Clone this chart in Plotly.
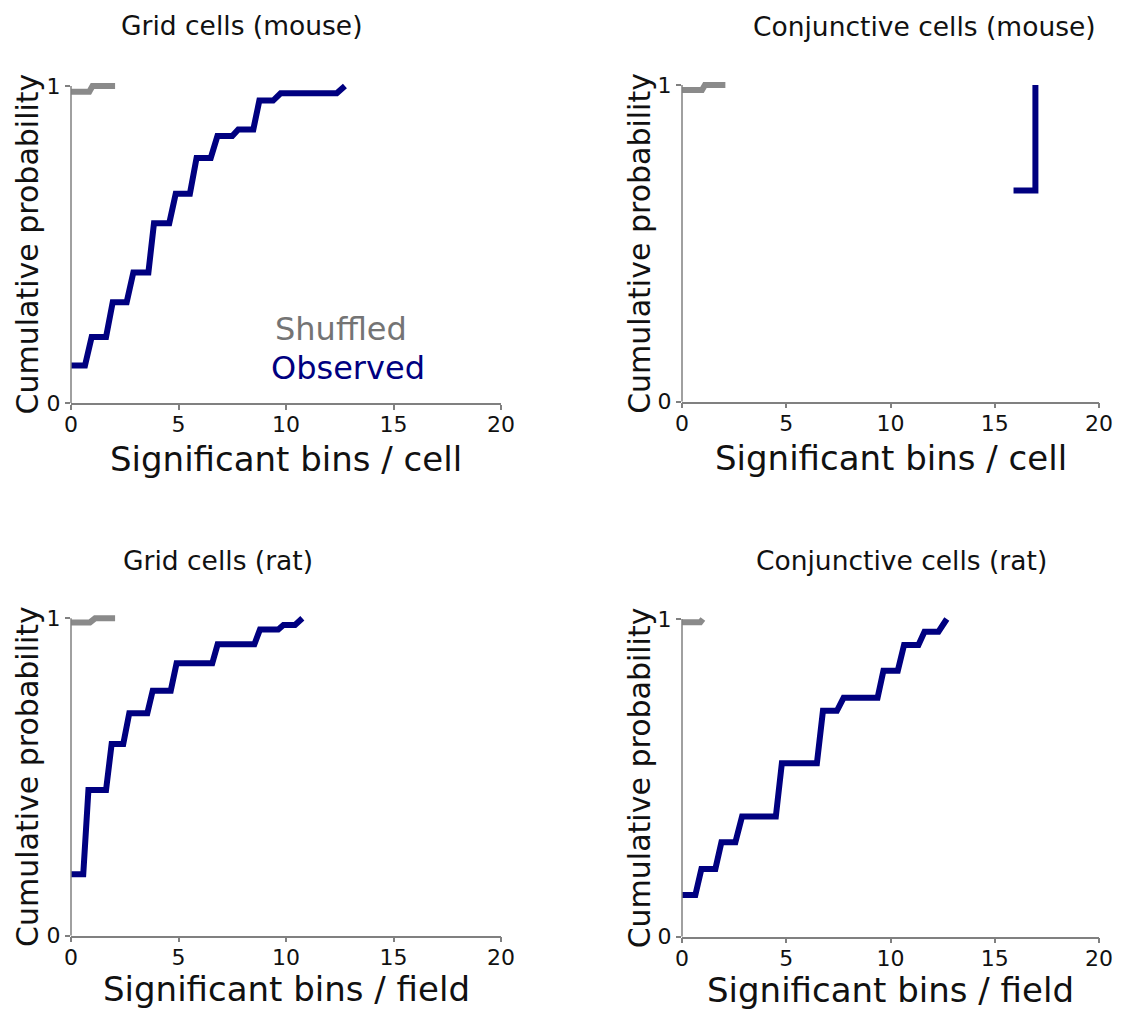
import plotly.graph_objects as go

# ---------------- data ----------------
titles = ["Grid cells (mouse)", "Conjunctive cells (mouse)", "Grid cells (rat)", "Conjunctive cells (rat)"]
xlabels = ["Significant bins / cell", "Significant bins / cell", "Significant bins / field", "Significant bins / field"]
ylabel = "Cumulative probability"
x_ticks = [0, 5, 10, 15, 20]
y_ticks = [0, 1]

# Grid cells (mouse)
gm_obs_x = [0, 0.65, 0.96, 1.63, 1.94, 2.59, 2.90, 3.60, 3.86, 4.57, 4.87, 5.53, 5.84, 6.50, 6.81, 7.50, 7.78, 8.48, 8.76, 9.40, 9.75, 12.36, 12.74]
gm_obs_y = [0.118, 0.118, 0.208, 0.208, 0.318, 0.318, 0.412, 0.412, 0.567, 0.567, 0.660, 0.660, 0.773, 0.773, 0.842, 0.842, 0.863, 0.863, 0.954, 0.954, 0.977, 0.977, 1.0]
gm_shuf_x = [0, 0.85, 1.0, 2.05]
gm_shuf_y = [0.982, 0.982, 1.0, 1.0]

# Conjunctive cells (mouse)
cm_obs_x = [15.9, 16.95, 16.95]
cm_obs_y = [0.667, 0.667, 1.0]
cm_shuf_x = [0, 0.96, 1.1, 2.08]
cm_shuf_y = [0.984, 0.984, 1.0, 1.0]

# Grid cells (rat)
gr_obs_x = [0, 0.57, 0.81, 1.63, 1.89, 2.43, 2.71, 3.55, 3.80, 4.64, 4.91, 6.57, 6.82, 8.53, 8.79, 9.64, 9.88, 10.42, 10.76]
gr_obs_y = [0.194, 0.194, 0.459, 0.459, 0.604, 0.604, 0.701, 0.701, 0.772, 0.772, 0.858, 0.858, 0.918, 0.918, 0.965, 0.965, 0.979, 0.979, 1.0]
gr_shuf_x = [0, 0.88, 1.12, 2.05]
gr_shuf_y = [0.987, 0.987, 1.0, 1.0]

# Conjunctive cells (rat)
cr_obs_x = [0, 0.64, 0.93, 1.60, 1.89, 2.56, 2.88, 4.50, 4.79, 6.47, 6.76, 7.43, 7.75, 9.38, 9.66, 10.35, 10.65, 11.34, 11.63, 12.30, 12.70]
cr_obs_y = [0.131, 0.131, 0.213, 0.213, 0.297, 0.297, 0.378, 0.378, 0.546, 0.546, 0.711, 0.711, 0.752, 0.752, 0.837, 0.837, 0.918, 0.918, 0.960, 0.960, 1.0]
cr_shuf_x = [0, 0.88, 1.0]
cr_shuf_y = [0.99, 0.99, 1.0]

panels = [
    (gm_shuf_x, gm_shuf_y, gm_obs_x, gm_obs_y),
    (cm_shuf_x, cm_shuf_y, cm_obs_x, cm_obs_y),
    (gr_shuf_x, gr_shuf_y, gr_obs_x, gr_obs_y),
    (cr_shuf_x, cr_shuf_y, cr_obs_x, cr_obs_y),
]

# ---------------- layout geometry (pixels, page coordinates) ----------------
W, H = 1125, 1010           # a little smaller than the window so the page never scrolls
FONT = "DejaVu Sans"
SHUF_COLOR = "#8a8a8a"
OBS_COLOR = "#000080"
SPINE = "#808080"
YTOP = 1.025

# (x_left, x_right, y_pix_at_0, y_pix_at_1) in page pixels
geom = [
    (71, 501, 403.0, 86.0),
    (682, 1099, 401.7, 85.0),
    (71, 501, 935.7, 618.3),
    (682, 1099, 936.7, 619.0),
]
title_pos = [(119, 25), (751, 26), (121, 560), (754, 560)]
xlabel_gap = [56, 56, 53.5, 53.5]
ylabel_gap = [44, 42.5, 44, 42.5]


def px(xp):
    return xp / W


def py(yp):
    return (H - yp) / H


fig = go.Figure()
annotations = []
shapes = []

for i, (sx, sy, ox, oy) in enumerate(panels):
    n = "" if i == 0 else str(i + 1)
    xa, ya = "x" + n, "y" + n
    fig.add_trace(go.Scatter(x=sx, y=sy, mode="lines", line=dict(color=SHUF_COLOR, width=6),
                             xaxis=xa, yaxis=ya, showlegend=False, hoverinfo="skip"))
    fig.add_trace(go.Scatter(x=ox, y=oy, mode="lines", line=dict(color=OBS_COLOR, width=6),
                             xaxis=xa, yaxis=ya, showlegend=False, hoverinfo="skip"))

    xl, xr, y0p, y1p = geom[i]
    ytop_p = y1p - (y0p - y1p) * (YTOP - 1)
    xdom = [px(xl), px(xr)]
    ydom = [py(y0p), py(ytop_p)]

    fig.layout["xaxis" + n] = dict(
        domain=xdom, range=[0, 20], anchor=ya, tickvals=x_ticks,
        showline=True, linecolor=SPINE, linewidth=1.5, ticks="outside", ticklen=5,
        tickcolor=SPINE, tickwidth=1.5, showgrid=False, zeroline=False, automargin=False,
        ticklabelstandoff=-4,
        tickfont=dict(family=FONT, size=22, color="#111"), fixedrange=True,
    )
    fig.layout["yaxis" + n] = dict(
        domain=ydom, range=[0, YTOP], anchor=xa, tickvals=y_ticks,
        showline=False, ticks="outside", ticklen=5, automargin=False,
        tickcolor=SPINE, tickwidth=1.5, showgrid=False, zeroline=False,
        tickfont=dict(family=FONT, size=22, color="#111"), fixedrange=True,
    )
    # left spine from 0 to 1
    shapes.append(dict(type="line", xref=xa + " domain", yref=ya, x0=0, x1=0, y0=0, y1=1,
                       line=dict(color=SPINE, width=1.5), layer="above"))

    # titles
    tx, ty = title_pos[i]
    annotations.append(dict(text=titles[i], x=px(tx), y=py(ty), xref="paper", yref="paper",
                            xanchor="left", yanchor="middle", showarrow=False,
                            font=dict(family=FONT, size=26.5, color="#111")))
    # x label
    annotations.append(dict(text=xlabels[i], x=px((xl + xr) / 2), y=py(y0p + xlabel_gap[i]),
                            xref="paper", yref="paper", xanchor="center", yanchor="middle",
                            showarrow=False, font=dict(family=FONT, size=34, color="#111")))
    # y label
    annotations.append(dict(text=ylabel, x=px(xl - ylabel_gap[i]), y=py((y0p + y1p) / 2),
                            xref="paper", yref="paper", xanchor="center", yanchor="middle",
                            textangle=-90, showarrow=False,
                            font=dict(family=FONT, size=30, color="#111")))

# legend-like text in first panel
annotations.append(dict(text="Shuffled", x=9.4, y=0.233, xref="x", yref="y",
                        xanchor="left", yanchor="middle", showarrow=False,
                        font=dict(family=FONT, size=32, color="#747474")))
annotations.append(dict(text="Observed", x=9.2, y=0.11, xref="x", yref="y",
                        xanchor="left", yanchor="middle", showarrow=False,
                        font=dict(family=FONT, size=32, color=OBS_COLOR)))

fig.update_layout(
    width=W, height=H, margin=dict(l=0, r=0, t=0, b=0, autoexpand=False),
    paper_bgcolor="white", plot_bgcolor="white",
    annotations=annotations, shapes=shapes, showlegend=False,
)

fig.write_html("out.html", config={"displayModeBar": False})
